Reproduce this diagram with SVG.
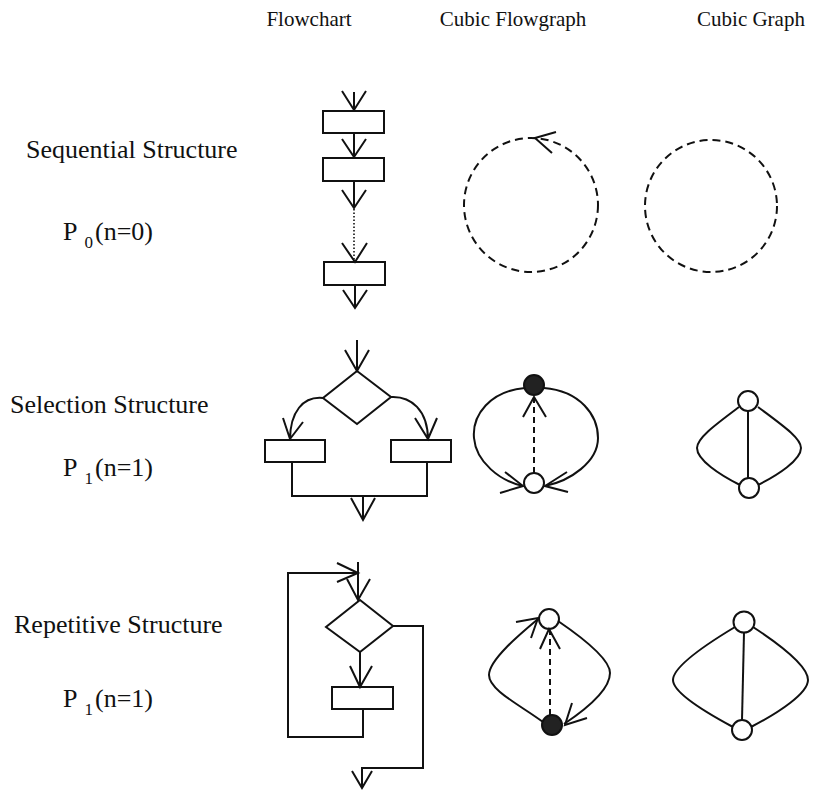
<svg xmlns="http://www.w3.org/2000/svg" width="831" height="792" viewBox="0 0 831 792">
<style>
text { font-family: "Liberation Serif", "Times New Roman", serif; fill: #111; }
.hdr { font-size: 21px; }
.lbl { font-size: 26px; }
.sub { font-size: 17px; }
.ln { fill: none; stroke: #111; stroke-width: 2; stroke-linejoin: miter; stroke-linecap: butt; }
.box { fill: #fff; stroke: #111; stroke-width: 2; }
.dot { fill: none; stroke: #111; stroke-width: 1.6; stroke-dasharray: 1.5 2; }
.dash { fill: none; stroke: #111; stroke-width: 2; stroke-dasharray: 8 5; }
.dsh2 { fill: none; stroke: #111; stroke-width: 2; stroke-dasharray: 6 4; }
.open { fill: #fff; stroke: #111; stroke-width: 2; }
.fill { fill: #222; stroke: #111; stroke-width: 2; }
</style>
<rect width="831" height="792" fill="#fff"/>

<g id="headers">
<text class="hdr" x="309" y="26" text-anchor="middle">Flowchart</text>
<text class="hdr" x="513" y="26" text-anchor="middle">Cubic Flowgraph</text>
<text class="hdr" x="751" y="26" text-anchor="middle">Cubic Graph</text>
</g>

<g id="row-labels">
<text class="lbl" x="26" y="158">Sequential Structure</text>
<text class="lbl" x="63" y="240">P<tspan class="sub" dx="7" dy="8">0</tspan><tspan dx="2" dy="-8">(n=0)</tspan></text>
<text class="lbl" x="10" y="413">Selection Structure</text>
<text class="lbl" x="14" y="633">Repetitive Structure</text>
<text class="lbl" x="63" y="476">P<tspan class="sub" dx="7" dy="8">1</tspan><tspan dx="2" dy="-8">(n=1)</tspan></text>
<text class="lbl" x="63" y="707">P<tspan class="sub" dx="7" dy="8">1</tspan><tspan dx="2" dy="-8">(n=1)</tspan></text>
</g>

<!-- Flowchart: sequential -->
<g id="seq-box1"><rect class="box" x="323" y="111" width="61" height="22"/></g>
<g id="seq-box2"><rect class="box" x="323" y="158" width="61" height="23"/></g>
<g id="seq-box3"><rect class="box" x="324" y="262" width="61" height="23"/></g>

<!-- Flowchart: selection -->
<g id="sel-diamond"><polygon class="box" points="357,371 391,397 357,424 323,398"/></g>
<g id="sel-box-left"><rect class="box" x="265" y="440" width="60" height="22"/></g>
<g id="sel-box-right"><rect class="box" x="391" y="440" width="60" height="22"/></g>

<!-- Flowchart: repetitive -->
<g id="rep-diamond"><polygon class="box" points="360,600 393,626 360,652 326,627"/></g>
<g id="rep-box"><rect class="box" x="332" y="687" width="61" height="22"/></g>

<!-- Cubic flowgraph nodes -->
<g id="cfg-sel-top"><circle class="fill" cx="534" cy="385" r="10"/></g>
<g id="cfg-sel-bottom"><circle class="open" cx="534" cy="483" r="10"/></g>
<g id="cfg-rep-top"><circle class="open" cx="549" cy="619" r="10"/></g>
<g id="cfg-rep-bottom"><circle class="fill" cx="552" cy="725" r="10"/></g>

<!-- Cubic graph nodes -->
<g id="cg-sel-top"><circle class="open" cx="748" cy="401" r="10"/></g>
<g id="cg-sel-bottom"><circle class="open" cx="749" cy="488" r="10"/></g>
<g id="cg-rep-top"><circle class="open" cx="744" cy="622" r="10.5"/></g>
<g id="cg-rep-bottom"><circle class="open" cx="742" cy="730" r="10"/></g>

<g id="connectors">
<!-- sequential flowchart -->
<path class="ln" d="M354,92 V111 M342,91 L354,110 L366,91"/>
<path class="ln" d="M354,133 V158 M342,139 L354,157 L366,139"/>
<path class="ln" d="M354,181 V208 M342,190 L354,208 L366,190"/>
<path class="dot" d="M354,209 V261"/>
<path class="ln" d="M342,243 L355,262 L367,243"/>
<path class="ln" d="M355,285 V308 M343,290 L355,308 L367,290"/>

<!-- selection flowchart -->
<path class="ln" d="M357,340 V371 M345,350 L357,371 L369,350"/>
<path class="ln" d="M323,398 C303,396 290,412 290,440 M283,418 L290,439 L303,422"/>
<path class="ln" d="M391,397 C411,396 428,410 428,440 M415,418 L428,439 L437,418"/>
<path class="ln" d="M292,462 V496 H427 V462"/>
<path class="ln" d="M363,496 V520 M351,498 L363,520 L375,498"/>

<!-- repetitive flowchart -->
<path class="ln" d="M358,562 V600 M347,579 L358,600 L370,579"/>
<path class="ln" d="M363,709 V737 H288 V573 H358 M337,563 L358,573 L337,582"/>
<path class="ln" d="M393,626 H423 V768 H362 V788 M352,771 L362,788 L372,771"/>
<path class="ln" d="M360,652 V687 M350,666 L360,687 L372,666"/>

<!-- cubic flowgraph: sequential loop -->
<circle class="dash" cx="531" cy="205" r="67"/>
<path class="ln" d="M556,132 L535,138 L552,153"/>

<!-- cubic flowgraph: selection -->
<path class="ln" d="M525,388 C490,391 472,415 474,438 C476,462 500,481 523,486"/>
<path class="ln" d="M505,472 L523,486 L500,493"/>
<path class="ln" d="M544,388 C580,391 598,415 598,438 C598,462 570,481 545,486"/>
<path class="ln" d="M567,472 L545,486 L568,492"/>
<path class="dsh2" d="M534,473 V399"/>
<path class="ln" d="M523,417 L534,397 L546,417"/>

<!-- cubic flowgraph: repetitive -->
<path class="ln" d="M543,722 C520,705 489,690 489,675 C489,660 520,634 538,619"/>
<path class="ln" d="M516,622 L538,618 L531,638"/>
<path class="ln" d="M558,621 C580,636 610,658 610,673 C610,690 585,710 564,724"/>
<path class="ln" d="M572,703 L565,725 L587,718"/>
<path class="dsh2" d="M550,715 V631"/>
<path class="ln" d="M540,649 L549,629 L560,649"/>

<!-- cubic graph: sequential -->
<circle class="dash" cx="711" cy="206" r="66"/>

<!-- cubic graph: selection -->
<path class="ln" d="M748,411 V478"/>
<path class="ln" d="M739,407 C715,425 697,438 697,448 C697,460 720,475 740,485"/>
<path class="ln" d="M758,407 C782,425 801,438 801,448 C801,460 778,475 758,485"/>

<!-- cubic graph: repetitive -->
<path class="ln" d="M744,632.5 L742,720"/>
<path class="ln" d="M735,627 C700,648 673,668 673,680 C673,693 705,712 733,727"/>
<path class="ln" d="M753,627 C785,648 808,668 808,680 C808,693 780,712 751,727"/>
</g>
</svg>
